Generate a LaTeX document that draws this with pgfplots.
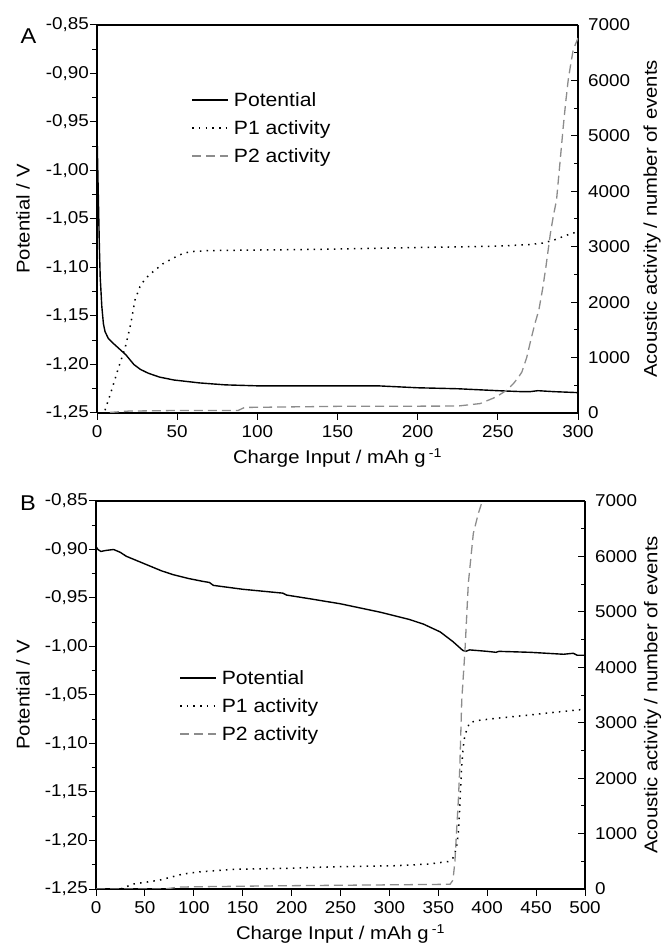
\documentclass[border=0pt]{standalone}
\usepackage{pgfplots}
\pgfplotsset{compat=1.18}
\usepackage{fontspec}
\setmainfont{Liberation Sans}[FakeStretch=1.1]

\pgfplotsset{
  common/.style={
    scale only axis, anchor=south west, height=388bp,
    /pgf/number format/assume math mode=true,
    /pgf/number format/1000 sep={},
    tick label style={font=\fontsize{17.2}{19}\selectfont},
    label style={font=\fontsize{18.5}{21}\selectfont},
    axis line style={line width=1.1bp},
    every tick/.style={line width=1bp, black},
    every minor tick/.style={line width=1bp, black},
    major tick length=7bp, minor tick length=4.5bp,
  },
  leftax/.style={common,
    ymin=-1.25, ymax=-0.85,
    axis x line*=bottom, axis y line*=left,
    tick align=outside,
    ytick={-1.25,-1.20,-1.15,-1.10,-1.05,-1.00,-0.95,-0.90,-0.85},
    minor y tick num=1,
    yticklabel style={/pgf/number format/fixed, /pgf/number format/fixed zerofill,
      /pgf/number format/precision=2, /pgf/number format/use comma, inner sep=1bp},
    xticklabel style={inner sep=1bp, yshift=-4bp},
    ylabel={Potential / V},
    xlabel={Charge Input / mAh g\,\textsuperscript{-1}},
    xlabel style={anchor=base, at={(axis description cs:0.5,-0.131)}},
  },
  rightax/.style={common,
    ymin=0, ymax=7000,
    axis x line*=box, axis y line*=right,
    tick align=inside,
    xtick=\empty,
    ytick={0,1000,2000,3000,4000,5000,6000,7000},
    minor y tick num=1,
    yticklabel style={anchor=west, inner sep=0bp, xshift=10bp},
    ylabel={Acoustic activity / number of events},
    legend cell align=left,
    legend style={draw=none, fill=none, inner sep=0bp, row sep=8.5bp,
      font=\fontsize{19.3}{22}\selectfont, anchor=north west,
      /tikz/every odd column/.append style={column sep=3bp},
      /tikz/every even column/.append style={column sep=0bp}},
    legend image code/.code={\draw[##1] (0bp,0bp) -- (36bp,0bp);},
  },
  pot/.style={black, line width=1.4bp},
  pone/.style={black, line width=1.5bp, dash pattern=on 1.5bp off 5.2bp},
  ptwo/.style={black!45, line width=1.3bp, dash pattern=on 9bp off 5bp},
}

\begin{document}
\begin{tikzpicture}
\path[use as bounding box] (0,0) rectangle (667bp,947bp);

% ================= Panel A =================
\begin{axis}[leftax, at={(97bp,534bp)}, width=481bp,
  xmin=0, xmax=300, xtick={0,50,100,150,200,250,300},
  ylabel style={anchor=center, at={(axis description cs:-0.154,0.5)}}]
\addplot[pot] coordinates {
(0,-0.96) (0.5,-1.0) (1,-1.04) (1.5,-1.08) (2,-1.11) (3,-1.14) (4,-1.158)
(5,-1.166) (7,-1.173) (10,-1.178) (14,-1.184) (18,-1.19) (20,-1.194)
(23,-1.2) (27,-1.205) (32,-1.209) (39,-1.213) (48,-1.216) (64,-1.219)
(80,-1.221) (100,-1.222) (150,-1.222) (175,-1.222) (200,-1.224)
(225,-1.225) (250,-1.227) (265,-1.228) (270,-1.228) (275,-1.227)
(285,-1.228) (300,-1.229)};
\end{axis}
\begin{axis}[rightax, at={(97bp,534bp)}, width=481bp,
  xmin=0, xmax=300, minor xtick={25,50,...,275},
  ylabel style={anchor=center, at={(axis description cs:1.154,0.5)}},
  legend style={at={(axis description cs:0.196,0.832)}}]
\addlegendimage{pot}
\addlegendentry{Potential}
\addplot[pone] coordinates {
(5,50) (9,400) (13,780) (17.5,1170) (21,1600) (23.7,2040) (26.8,2280)
(30,2420) (35,2550) (41,2690) (47.6,2795) (53,2870) (58,2910) (70,2930)
(100,2940) (145,2955) (200,2985) (250,3010) (270,3040) (278,3065)
(285,3120) (295,3230) (300,3270)};
\addlegendentry{P1 activity}
\addplot[ptwo] coordinates {
(8,10) (20,35) (50,45) (88,45) (92,100) (150,120) (225,125) (239,170)
(249,290) (256,420) (260,540) (263,650) (265,740) (268,1000) (270.6,1320)
(273,1600) (275.6,1860) (278,2250) (280,2640) (282.8,3245) (284.6,3550)
(286.6,3840) (288.7,4500) (290.8,5165) (292.3,5600) (293.9,6010)
(295.5,6300) (297,6550) (300,6765)};
\addlegendentry{P2 activity}
\end{axis}

% ================= Panel B =================
\begin{axis}[leftax, at={(96bp,58bp)}, width=489bp,
  xmin=0, xmax=500, xtick={0,50,100,150,200,250,300,350,400,450,500},
  ylabel style={anchor=center, at={(axis description cs:-0.149,0.5)}}]
\addplot[pot] coordinates {
(0,-0.897) (2,-0.9) (5,-0.902) (10,-0.901) (18,-0.900) (25,-0.903)
(31,-0.907) (43,-0.912) (55,-0.917) (67,-0.922) (79,-0.926) (95,-0.930)
(110,-0.933) (116,-0.934) (120,-0.937) (150,-0.941) (191,-0.945)
(195,-0.947) (220,-0.951) (250,-0.956) (290,-0.9645) (320,-0.972)
(335,-0.977) (352,-0.985) (365,-0.995) (375,-1.004) (378,-1.005)
(382,-1.0035) (400,-1.005) (409,-1.006) (412,-1.005) (444,-1.006)
(478,-1.008) (488,-1.007) (492,-1.009) (500,-1.009)};
\end{axis}
\begin{axis}[rightax, at={(96bp,58bp)}, width=489bp,
  xmin=0, xmax=500, minor xtick={25,50,...,475},
  ylabel style={anchor=center, at={(axis description cs:1.138,0.5)}},
  legend style={at={(axis description cs:0.17,0.569)}}]
\addlegendimage{pot}
\addlegendentry{Potential}
\addplot[pone] coordinates {
(5,0) (25,0) (38,90) (50,120) (65,160) (89,270) (106,310) (140,355)
(200,375) (242,400) (307,420) (340,450) (360,495) (365,560) (367,645)
(369,800) (370.5,1010) (372,1500) (373.8,2205) (375.5,2565) (377,2750)
(379,2870) (382,3000) (390,3040) (409.6,3080) (443.7,3140) (470,3190)
(498,3240) (500,3245)};
\addlegendentry{P1 activity}
\addplot[ptwo] coordinates {
(0,0) (70,0) (85,35) (100,40) (200,60) (300,75) (362,85) (365,160)
(367,500) (368.6,1010) (370.5,1605) (372,2205) (374,3410) (377.3,4310)
(380.7,5515) (385.8,6415) (391,6780) (395.4,7020) (398,7300)};
\addlegendentry{P2 activity}
\end{axis}

\node[font=\fontsize{21.5}{24}\selectfont] at (28.5bp,910.5bp) {A};
\node[font=\fontsize{21.5}{24}\selectfont] at (28bp,443.5bp) {B};
\end{tikzpicture}
\end{document}
